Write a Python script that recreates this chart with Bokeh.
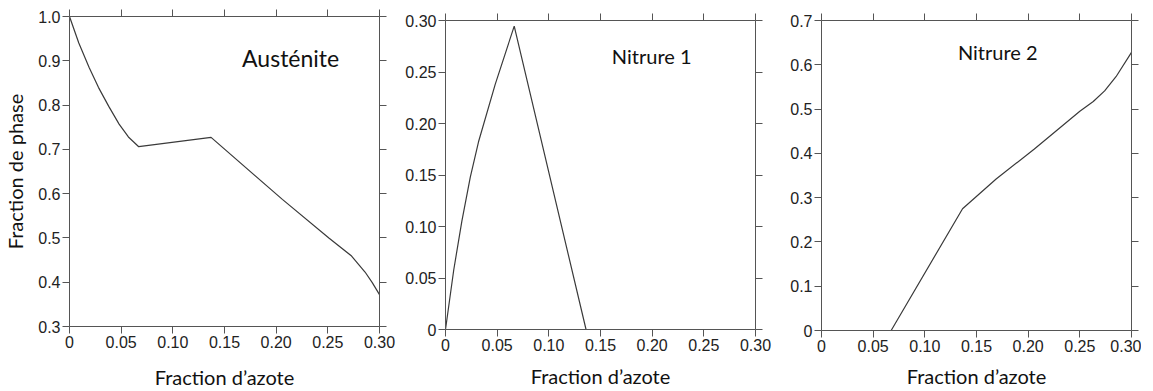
from bokeh.plotting import figure
from bokeh.layouts import row, column, Spacer
from bokeh.models import Range1d, LinearAxis, FixedTicker, Label
from bokeh.embed import file_html
from bokeh.resources import INLINE

# ---- data ----
aus_x = [0.0, 0.009, 0.019, 0.028, 0.038, 0.048, 0.057, 0.067, 0.137, 0.206, 0.251, 0.273, 0.286, 0.293, 0.300]
aus_y = [1.0, 0.940, 0.885, 0.840, 0.797, 0.757, 0.728, 0.706, 0.727, 0.587, 0.500, 0.459, 0.423, 0.399, 0.372]

n1_x = [0.0, 0.008, 0.0158, 0.024, 0.0319, 0.0481, 0.0665, 0.136, 0.300]
n1_y = [0.0, 0.058, 0.105, 0.148, 0.182, 0.238, 0.2945, 0.0, 0.0]

n2_x = [0.0, 0.0674, 0.1365, 0.169, 0.206, 0.250, 0.263, 0.274, 0.285, 0.300]
n2_y = [0.0, 0.0, 0.275, 0.342, 0.410, 0.495, 0.517, 0.541, 0.573, 0.628]

x_ticks = [0, 0.05, 0.10, 0.15, 0.20, 0.25, 0.30]
x_labels = ["0", "0.05", "0.10", "0.15", "0.20", "0.25", "0.30"]
aus_yticks = [0.3, 0.4, 0.5, 0.6, 0.7, 0.8, 0.9, 1.0]
aus_ylabels = ["0.3", "0.4", "0.5", "0.6", "0.7", "0.8", "0.9", "1.0"]
n1_yticks = [0, 0.05, 0.10, 0.15, 0.20, 0.25, 0.30]
n1_ylabels = ["0", "0.05", "0.10", "0.15", "0.20", "0.25", "0.30"]
n2_yticks = [0, 0.1, 0.2, 0.3, 0.4, 0.5, 0.6, 0.7]
n2_ylabels = ["0", "0.1", "0.2", "0.3", "0.4", "0.5", "0.6", "0.7"]

titles = ["Austénite", "Nitrure 1", "Nitrure 2"]
xlabel = "Fraction d\u2019azote"
ylabel = "Fraction de phase"

AX = "#555555"
LBL_FONT = "Lato"
TICK_FONT = "Liberation Sans"


def make(xs, ys, yr, yticks, ylabels, title, tx, ty, tsize, left, top, bottom, right, fh,
         show_ylabel, xstand):
    p = figure(frame_width=310, frame_height=fh, output_backend="svg", toolbar_location=None,
               x_range=Range1d(0, 0.3), y_range=Range1d(*yr),
               min_border_left=left, min_border_right=right, min_border_top=top,
               min_border_bottom=bottom)
    p.grid.visible = False
    p.outline_line_color = None
    p.background_fill_color = "white"
    p.border_fill_color = "white"

    xl = {t: l for t, l in zip(x_ticks, x_labels)}
    yl = {t: l for t, l in zip(yticks, ylabels)}

    xa = p.xaxis[0]
    xa.ticker = FixedTicker(ticks=x_ticks)
    xa.major_label_overrides = xl
    ya = p.yaxis[0]
    ya.ticker = FixedTicker(ticks=yticks)
    ya.major_label_overrides = yl

    for a in (xa, ya):
        a.axis_line_color = AX
        a.major_tick_line_color = AX
        a.major_tick_out = 7
        a.major_tick_in = 0
        a.minor_tick_line_color = None
        a.major_label_text_font = TICK_FONT
        a.major_label_text_font_size = "16px"
        a.major_label_text_color = "#222222"
        a.major_label_standoff = 2
        a.axis_label_text_font = LBL_FONT
        a.axis_label_text_font_style = "normal"
        a.axis_label_text_color = "#111111"
        a.axis_label_text_font_size = "20px"
    xa.axis_label = xlabel
    xa.axis_label_standoff = xstand
    if show_ylabel:
        ya.axis_label = ylabel
        ya.axis_label_standoff = 8

    top_ax = LinearAxis(ticker=FixedTicker(ticks=x_ticks))
    right_ax = LinearAxis(ticker=FixedTicker(ticks=yticks))
    for a in (top_ax, right_ax):
        a.axis_line_color = AX
        a.major_tick_line_color = AX
        a.major_tick_out = 7
        a.major_tick_in = 0
        a.minor_tick_line_color = None
        a.major_label_text_font_size = "1px"
        a.major_label_text_color = None
        a.major_label_standoff = 0
    p.add_layout(top_ax, "above")
    p.add_layout(right_ax, "right")

    p.line(xs, ys, line_color="#3a3a3a", line_width=1.2)

    p.add_layout(Label(x=tx, y=ty, text=title, text_font=LBL_FONT,
                       text_font_size=tsize, text_color="#111111",
                       text_baseline="alphabetic"))
    return p


p1 = make(aus_x, aus_y, (0.3, 1.0), aus_yticks, aus_ylabels, titles[0],
          0.167, 0.907, "23px", 66, 16, 46, 20, 310, True, 14)
p2 = make(n1_x, n1_y, (0.0, 0.30), n1_yticks, n1_ylabels, titles[1],
          0.161, 0.266, "20px", 46, 12, 42, 20, 309, False, 10)
p3 = make(n2_x, n2_y, (0.0, 0.7), n2_yticks, n2_ylabels, titles[2],
          0.132, 0.628, "20px", 46, 12, 40, 10, 310, False, 9)

layout = row(p1,
             column(Spacer(width=10, height=8), p2),
             column(Spacer(width=10, height=8), p3))
open("out.html", "w").write(file_html(layout, INLINE))
